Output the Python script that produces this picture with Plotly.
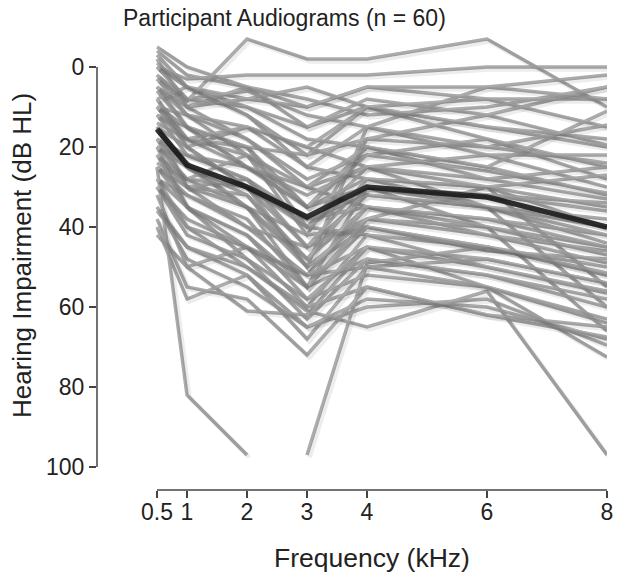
import plotly.graph_objects as go

freqs = [0.5, 1, 2, 3, 4, 6, 8]
freq_labels = ["0.5", "1", "2", "3", "4", "6", "8"]
y_ticks = [0, 20, 40, 60, 80, 100]

# individual audiograms (dB HL) at 0.5,1,2,3,4,6,8 kHz
audiograms = [
    [3, 8.5, -7, -2, -2, -7, 10],
    [0, 3, 2, 2, 2, 0, 0],
    [25, 82, 97, None, None, None, None],
    [None, None, None, 97, 49, 45, 52],
    [30, 40, 50, 61, 65, 56, 97],
    [-3, 5, 8, 10, 5, 5, 2],
    [-5, 0, 5, 8, 12, 10, 5],
    [2, 10, 5, 15, 10, 8, 8],
    [5, 12, 15, 20, 10, 15, 20],
    [0, 8, 10, 18, 20, 25, 11],
    [8, 5, 12, 25, 15, 20, 14.5],
    [10, 15, 20, 22, 18, 12, 19.5],
    [-2, 10, 18, 30, 25, 22, 22],
    [12, 18, 22, 30, 20, 28, 25],
    [15, 20, 15, 25, 28, 30, 27],
    [5, 15, 25, 35, 22, 26, 31.5],
    [18, 22, 28, 40, 30, 32, 34],
    [20, 25, 30, 38, 35, 38, 42],
    [10, 20, 30, 45, 32, 35, 44],
    [22, 28, 35, 50, 38, 40, 47],
    [15, 30, 40, 52, 35, 42, 49],
    [25, 32, 38, 55, 40, 45, 51.5],
    [28, 35, 42, 58, 45, 48, 54],
    [30, 38, 45, 60, 42, 50, 56.5],
    [20, 35, 48, 63, 48, 52, 60],
    [35, 45, 52, 68, 50, 55, 63],
    [38, 55, 58, 72, 55, 62, 67.5],
    [40, 58, 52, 65, 60, 58, 69.5],
    [32, 50, 61, 62, 45, 55, 72.5],
    [18, 30, 35, 55, 30, 40, 66],
    [12, 22, 28, 45, 28, 35, 60],
    [8, 18, 20, 40, 25, 30, 55],
    [25, 30, 32, 48, 35, 38, 45],
    [15, 25, 35, 42, 40, 45, 50],
    [20, 28, 22, 35, 30, 35, 40],
    [28, 32, 40, 45, 38, 30, 35],
    [0, 5, 10, 15, 8, 12, 5],
    [-4, 2, 5, 10, 5, 8, 15],
    [5, 10, 8, 5, 10, 18, 25],
    [10, 12, 18, 28, 22, 18, 28],
    [12, 15, 25, 32, 25, 28, 33],
    [22, 30, 28, 38, 32, 35, 38],
    [18, 25, 32, 50, 40, 46, 48],
    [25, 35, 45, 55, 48, 52, 58],
    [30, 42, 48, 58, 52, 55, 64],
    [35, 48, 55, 65, 58, 60, 68],
    [42, 50, 45, 52, 45, 50, 56],
    [36, 45, 50, 60, 55, 62, 65],
    [8, 20, 30, 50, 15, 22, 30],
    [3, 12, 22, 42, 18, 20, 24],
    [14, 18, 15, 20, 25, 35, 42],
    [20, 22, 25, 30, 35, 40, 45],
    [-1, 5, 12, 22, 10, 15, 18],
    [6, 15, 20, 35, 20, 25, 32],
    [24, 28, 30, 40, 42, 45, 52],
    [16, 24, 35, 48, 30, 32, 36],
    [10, 18, 25, 35, 28, 30, 40],
    [28, 40, 45, 52, 50, 48, 54],
    [2, 8, 6, 12, 15, 5, 8],
    [22, 35, 42, 55, 38, 42, 46],
]

mean_audiogram = [15.5, 24.5, 30, 37.5, 30, 32.5, 40]

GRAY = "#ababab"
DARK = "#333333"
FONT = "Liberation Sans, Arial, sans-serif"
TXT = "#222222"

fig = go.Figure()

# soft drop shadows (same data on slightly shifted overlay axes)
for a in audiograms:
    fig.add_trace(go.Scatter(x=freqs, y=a, mode="lines", xaxis="x2", yaxis="y2",
                             line=dict(color="rgba(0,0,0,0.07)", width=4.5),
                             hoverinfo="skip", showlegend=False))
fig.add_trace(go.Scatter(x=freqs, y=mean_audiogram, mode="lines", xaxis="x2", yaxis="y2",
                         line=dict(color="rgba(0,0,0,0.12)", width=6.5),
                         hoverinfo="skip", showlegend=False))

for a in audiograms:
    fig.add_trace(go.Scatter(x=freqs, y=a, mode="lines",
                             line=dict(color=GRAY, width=3.5),
                             hoverinfo="skip", showlegend=False))
fig.add_trace(go.Scatter(x=freqs, y=mean_audiogram, mode="lines",
                         line=dict(color=DARK, width=5.5),
                         hoverinfo="skip", showlegend=False))

x_range = [-0.5, 8]
y_range = [105.75, -8]
px_per_x = 510 / (x_range[1] - x_range[0])
px_per_y = 455 / (y_range[0] - y_range[1])
sx, sy = 2.5, 2.5

# page body has an 8px default margin, so the figure is drawn 8px smaller
fig.update_layout(
    width=622, height=573,
    margin=dict(l=89, r=23, t=27, b=91),
    paper_bgcolor="white", plot_bgcolor="white",
    font=dict(family=FONT, size=23, color=TXT),
    xaxis=dict(range=x_range, tickvals=freqs, ticktext=freq_labels,
               showgrid=False, zeroline=False, showline=False,
               ticks="outside", ticklen=7, tickwidth=1.5, tickcolor="#444444",
               ticklabelstandoff=-6,
               tickfont=dict(size=23, family=FONT, color=TXT)),
    yaxis=dict(range=y_range, tickvals=y_ticks,
               showgrid=False, zeroline=False, showline=False,
               ticks="outside", ticklen=7, tickwidth=1.5, tickcolor="#444444",
               tickfont=dict(size=23, family=FONT, color=TXT)),
    xaxis2=dict(range=[x_range[0] - sx / px_per_x, x_range[1] - sx / px_per_x],
                overlaying="x", visible=False),
    yaxis2=dict(range=[y_range[0] - sy / px_per_y, y_range[1] - sy / px_per_y],
                overlaying="y", visible=False),
    shapes=[
        dict(type="line", xref="x", yref="paper", x0=min(freqs), x1=max(freqs), y0=0, y1=0,
             line=dict(color="#444444", width=1.5)),
        dict(type="line", xref="paper", yref="y", x0=0, x1=0, y0=min(y_ticks), y1=max(y_ticks),
             line=dict(color="#444444", width=1.5)),
    ],
    annotations=[
        dict(text="Participant Audiograms (n = 60)", xref="paper", yref="paper",
             x=(284 - 97) / 510, y=1 + (35 - 18) / 455, showarrow=False,
             font=dict(size=23, family=FONT, color=TXT), xanchor="center", yanchor="middle"),
        dict(text="Frequency (kHz)", xref="paper", yref="paper",
             x=(372 - 97) / 510, y=-(558 - 490) / 455, showarrow=False,
             font=dict(size=26.5, family=FONT, color=TXT), xanchor="center", yanchor="middle"),
        dict(text="Hearing Impairment (dB HL)", xref="paper", yref="paper",
             x=-(97 - 22) / 510, y=1 - (256 - 35) / 455, showarrow=False, textangle=-90,
             font=dict(size=26, family=FONT, color=TXT), xanchor="center", yanchor="middle"),
    ],
)

fig.write_html("out.html")
